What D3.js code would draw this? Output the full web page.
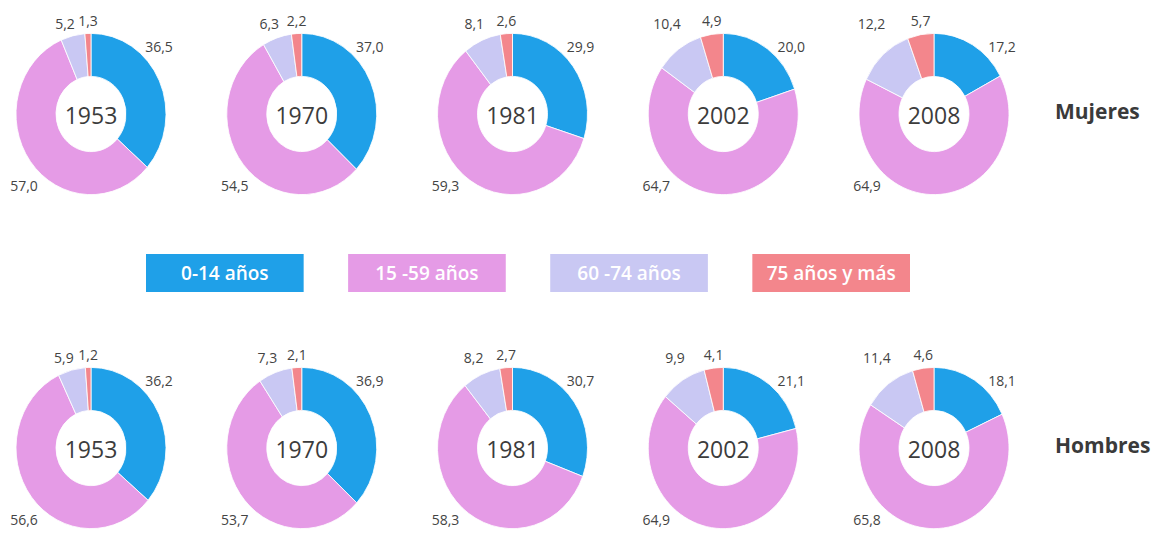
<!DOCTYPE html>
<html><head><meta charset="utf-8">
<script src="https://cdn.jsdelivr.net/npm/d3@7"></script>
<style>
html,body{margin:0;padding:0;background:#fff;}
svg{display:block;font-family:"Open Sans",sans-serif;}
</style></head>
<body>
<svg id="chart" width="1170" height="535"></svg>
<script>
const years = ["1953","1970","1981","2002","2008"];
const groups = ["0-14 años","15 -59 años","60 -74 años","75 años y más"];
const sexes = ["Mujeres","Hombres"];
const colors = ["#1fa0e8","#e59be6","#c9c8f3","#f3868c"];

const mujeres0_14  = [36.5, 37.0, 29.9, 20.0, 17.2];
const mujeres15_59 = [57.0, 54.5, 59.3, 64.7, 64.9];
const mujeres60_74 = [5.2, 6.3, 8.1, 10.4, 12.2];
const mujeres75    = [1.3, 2.2, 2.6, 4.9, 5.7];
const hombres0_14  = [36.2, 36.9, 30.7, 21.1, 18.1];
const hombres15_59 = [56.6, 53.7, 58.3, 64.9, 65.8];
const hombres60_74 = [5.9, 7.3, 8.2, 9.9, 11.4];
const hombres75    = [1.2, 2.1, 2.7, 4.1, 4.6];

const series = {
  "Mujeres": [mujeres0_14, mujeres15_59, mujeres60_74, mujeres75],
  "Hombres": [hombres0_14, hombres15_59, hombres60_74, hombres75]
};

const svg = d3.select("#chart");
const x = d3.scalePoint().domain(years).range([91, 934]);
const y = d3.scalePoint().domain(sexes).range([114, 448]);
const color = d3.scaleOrdinal().domain(groups).range(colors);

const R = 75, r = 35, sy = 1.075;
const pie = d3.pie().sort(null).value(d => d.v).startAngle(0).endAngle(2*Math.PI);
const arc = d3.arc().innerRadius(r).outerRadius(R);
const fmt = v => d3.format(".1f")(v).replace(".", ",");

sexes.forEach(sex => {
  const cy = y(sex);
  years.forEach((yr, i) => {
    const cx = x(yr);
    const data = groups.map((g, k) => ({g, v: series[sex][k][i]}));
    const arcs = pie(data);
    const g = svg.append("g").attr("transform", `translate(${cx},${cy})`);
    g.append("g").attr("transform", `scale(1,${sy})`)
      .selectAll("path").data(arcs).join("path")
      .attr("d", arc)
      .attr("fill", d => color(d.data.g))
      .attr("stroke", "#fff").attr("stroke-width", 0.8);
    g.append("text").attr("x", 0).attr("y", 10)
      .attr("text-anchor", "middle").attr("font-size", 23)
      .attr("fill", "#3c3c3c").text(yr);

    const top = -R * sy;
    arcs.forEach((a, k) => {
      const mid = (a.startAngle + a.endAngle) / 2;
      let tx, ty, anchor = "middle";
      if (k === 0) { tx = 68; ty = -67 + 5; }
      else if (k === 1) { tx = -67; ty = 72 + 5; }
      else if (k === 2) { tx = R * Math.sin(mid) + 2; ty = top - 4; anchor = "end"; }
      else { tx = R * Math.sin(mid); ty = top - 7; }
      g.append("text").attr("x", tx).attr("y", ty)
        .attr("text-anchor", anchor).attr("font-size", 14)
        .attr("fill", "#444").text(fmt(a.data.v));
    });
  });
  svg.append("text").attr("x", 1055).attr("y", cy + 5)
    .attr("font-size", 21).attr("font-weight", 700)
    .attr("fill", "#3a3a3a").text(sex);
});

// legend
const lx = d3.scaleBand().domain(groups).range([146, 910]).paddingInner(0.22).paddingOuter(0);
const lg = svg.append("g").selectAll("g").data(groups).join("g")
  .attr("transform", d => `translate(${lx(d)},254)`);
lg.append("rect").attr("width", lx.bandwidth()).attr("height", 38)
  .attr("fill", d => color(d));
lg.append("text").attr("x", lx.bandwidth()/2).attr("y", 26)
  .attr("text-anchor", "middle").attr("font-size", 19).attr("font-weight", 600)
  .attr("fill", "#fff").text(d => d);
</script>
</body></html>
